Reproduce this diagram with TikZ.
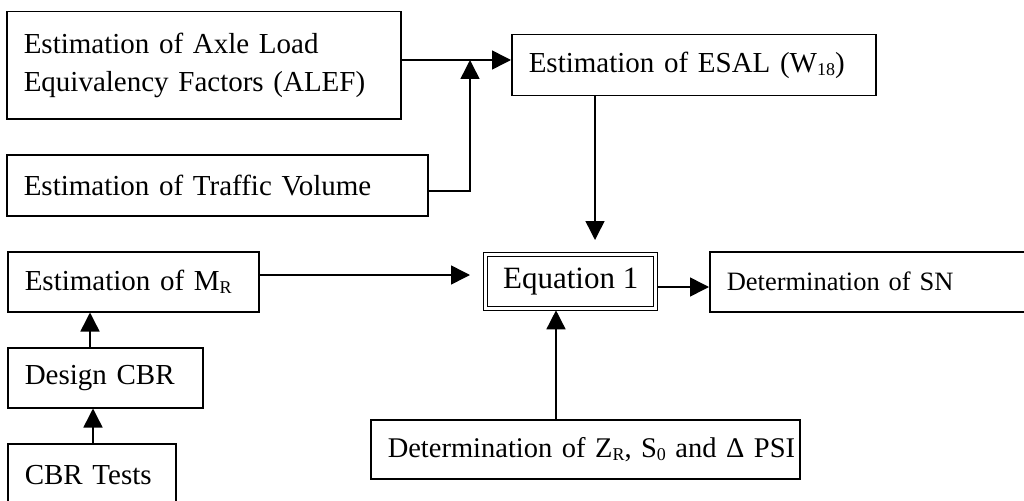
\documentclass[tikz,border=0pt]{standalone}
\usepackage{fontspec}
\setmainfont{Liberation Serif}
\usetikzlibrary{arrows.meta}
\newcommand\lowsub[1]{\raisebox{-3pt}{\fontsize{18}{18}\selectfont #1}}
\begin{document}
\begin{tikzpicture}[x=1pt,y=-1pt,
  box/.style={draw, line width=1.5pt, anchor=north west, inner xsep=17pt, inner ysep=0pt,
    align=left, font=\fontsize{29}{38}\selectfont},
  dbox/.style={draw, double, double distance=3pt, line width=1.3pt, anchor=north west,
    inner xsep=0pt, inner ysep=0pt, align=center, font=\fontsize{31}{38}\selectfont},
  arr/.style={line width=1.5pt, -{Triangle[length=19pt,width=19pt]}}]
\useasboundingbox (0,0) rectangle (1024,500);
\node[box, text width=360pt, minimum height=107pt] (alef) at (6,11)
  {Estimation of Axle Load\\Equivalency Factors (ALEF)};
\node[box, text width=387pt, minimum height=61pt] (traffic) at (6,154)
  {Estimation of Traffic Volume};
\node[box, text width=330pt, minimum height=61pt] (esal) at (511,34)
  {Estimation of ESAL (W\lowsub{18})};
\node[box, text width=217pt, minimum height=60pt] (mr) at (7,251)
  {Estimation of M\lowsub{R}};
\node[box, text width=161pt, minimum height=60pt] (design) at (7,347)
  {Design CBR};
\node[box, text width=134pt, minimum height=62pt] (cbr) at (7,443)
  {CBR Tests};
\node[dbox, minimum width=170pt, minimum height=54pt] (eq) at (485,254)
  {Equation 1};
\node[box, text width=296pt, minimum height=60pt, font=\fontsize{26.5}{34}\selectfont] (sn) at (709,251)
  {Determination of SN};
\node[box, text width=395pt, minimum height=59pt, font=\fontsize{28.5}{36}\selectfont] (zr) at (370,419)
  {\makebox[395pt][l]{Determination of Z\lowsub{R}, S\lowsub{0} and Δ PSI}};
% junctions / routing helpers
\coordinate (j) at (470,60);
\coordinate (t) at (470,191);
\coordinate (ex) at (595,0);
\coordinate (mry) at (0,275);
\coordinate (sny) at (0,287);
\coordinate (zx) at (556,0);
\coordinate (dx) at (90,0);
\coordinate (cx) at (93,0);
% connectors
\draw[arr] (alef.east |- j) -- (esal.west |- j);
\draw[arr] (traffic.east |- t) -- (t) -- (j);
\draw[arr, shorten >=14pt] (esal.south -| ex) -- (eq.north -| ex);
\draw[arr, shorten >=15pt] (mr.east |- mry) -- (eq.west |- mry);
\draw[arr, shorten <=2pt] (eq.east |- sny) -- (sn.west |- sny);
\draw[arr, shorten >=1pt] (zr.north -| zx) -- (eq.south -| zx);
\draw[arr] (design.north -| dx) -- (mr.south -| dx);
\draw[arr] (cbr.north -| cx) -- (design.south -| cx);
\end{tikzpicture}
\end{document}
